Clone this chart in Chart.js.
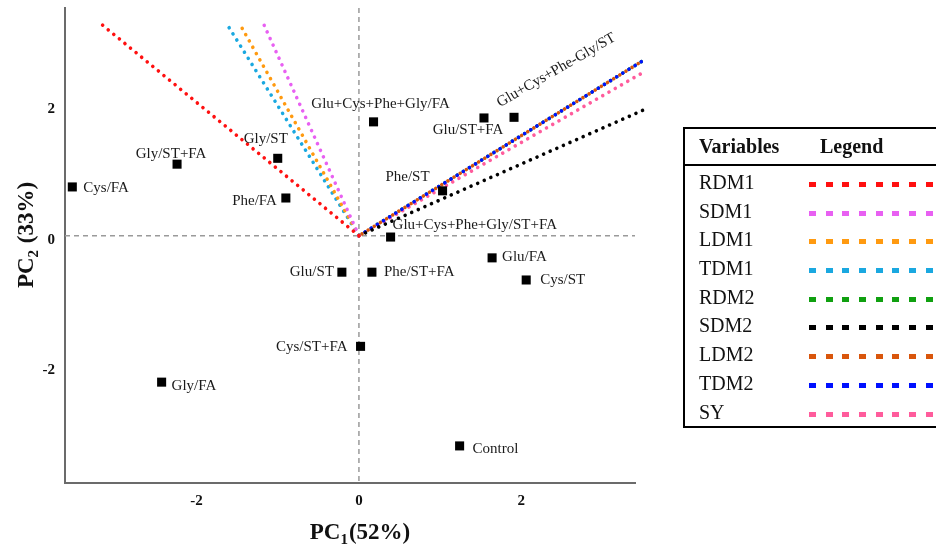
<!DOCTYPE html>
<html>
<head>
<meta charset="utf-8">
<script src="https://cdn.jsdelivr.net/npm/chart.js@4"></script>
<style>
  html, body { margin: 0; padding: 0; background: #fff; overflow: hidden; }
  #wrap { position: relative; width: 936px; height: 546px; }
  #biplot { position: absolute; left: 0; top: 0; }
  .legend-box {
    position: absolute; left: 683px; top: 127px; width: 270px; height: 297px;
    border: 2px solid #000; font-family: "Liberation Serif", serif; color: #111;
  }
  .legend-head { position: relative; height: 35px; border-bottom: 2px solid #000; font-weight: bold; font-size: 20px; }
  .legend-head span { position: absolute; top: 6px; }
  .legend-row { position: relative; height: 28.7px; font-size: 20px; }
  .legend-row .name { position: absolute; left: 14px; top: 3px; }
  .legend-row .dots { position: absolute; left: 124px; top: 14px; width: 150px; height: 5px; }
</style>
</head>
<body>
<div id="wrap">
  <canvas id="biplot" width="936" height="546"></canvas>
  <div class="legend-box" id="legendBox">
    <div class="legend-head"><span style="left:14px">Variables</span><span style="left:135px">Legend</span></div>
    <div id="legendRows" style="padding-top:2px"></div>
  </div>
</div>
<script>
// sample scores (PC1, PC2)
const sampleNames = ["Cys/FA", "Gly/ST+FA", "Gly/ST", "Phe/FA", "Glu+Cys+Phe+Gly/FA", "Glu/ST+FA",
  "Glu+Cys+Phe-Gly/ST", "Phe/ST", "Glu+Cys+Phe+Gly/ST+FA", "Glu/ST", "Phe/ST+FA", "Glu/FA",
  "Cys/ST", "Cys/ST+FA", "Gly/FA", "Control"];
const samplePC1 = [-3.53, -2.24, -1.00, -0.90, 0.18, 1.54, 1.91, 1.03, 0.39, -0.21, 0.16, 1.64, 2.06, 0.02, -2.43, 1.24];
const samplePC2 = [0.75, 1.10, 1.19, 0.58, 1.75, 1.81, 1.82, 0.69, -0.02, -0.56, -0.56, -0.34, -0.68, -1.70, -2.25, -3.23];

// variable loadings (vector ends)
const varNames = ["RDM1", "SDM1", "LDM1", "TDM1", "RDM2", "SDM2", "LDM2", "TDM2", "SY"];
const varColors = ["#ff1010", "#e860f2", "#ff9a10", "#1aa8e0", "#10a010", "#000000", "#d9560c", "#0010ff", "#ff5c9c"];
const varPC1 = [-3.19, -1.18, -1.48, -1.61, 3.51, 3.50, 3.51, 3.51, 3.50];
const varPC2 = [3.27, 3.27, 3.28, 3.22, 2.70, 1.93, 2.70, 2.70, 2.51];

const xTicks = [-2, 0, 2];
const yTicks = [-2, 0, 2];

// label placement: [align, dx, dy]
const labelPlace = [
  ["left", 11, 1], ["center", -6, -10], ["center", -12, -19], ["right", -9, 3],
  ["center", 7, -18], ["center", -16, 12], ["rot", -14, -10], ["right", -13, -14],
  ["left", 2, -12], ["right", -8, 0], ["left", 12, 0], ["left", 10, -1],
  ["left", 14, 0], ["right", -13, 1], ["left", 10, 4], ["left", 13, 3]
];

const serif = '"Liberation Serif", "Times New Roman", serif';

const vectorSets = varNames.map((name, i) => ({
  label: name,
  data: [{ x: 0, y: 0 }, { x: varPC1[i], y: varPC2[i] }],
  showLine: true,
  borderColor: varColors[i],
  borderWidth: 3.6,
  borderDash: [0.01, 7.2],
  borderDashOffset: name === "LDM2" ? 3.6 : 0,
  borderCapStyle: "round",
  pointRadius: 0,
  clip: false,
  order: name === "TDM2" ? 1 : name === "LDM2" ? 2 : name === "RDM2" ? 3 : 1
}));

const pointSet = {
  label: "samples",
  data: samplePC1.map((x, i) => ({ x: x, y: samplePC2[i] })),
  pointStyle: "rect",
  pointRadius: 6.4,
  backgroundColor: "#000",
  borderWidth: 0,
  order: 0
};

const zeroLines = {
  id: "zeroLines",
  beforeDatasetsDraw(chart) {
    const { ctx, chartArea: a, scales: { x, y } } = chart;
    const x0 = x.getPixelForValue(0), y0 = y.getPixelForValue(0);
    ctx.save();
    ctx.strokeStyle = "#9a9a9a";
    ctx.lineWidth = 1.5;
    ctx.setLineDash([5, 4]);
    ctx.beginPath();
    ctx.moveTo(x0, a.top); ctx.lineTo(x0, a.bottom);
    ctx.moveTo(a.left, y0); ctx.lineTo(a.right, y0);
    ctx.stroke();
    ctx.restore();
  }
};

const sampleLabels = {
  id: "sampleLabels",
  afterDatasetsDraw(chart) {
    const ctx = chart.ctx;
    const idx = chart.data.datasets.indexOf(pointSet);
    const meta = chart.getDatasetMeta(idx);
    ctx.save();
    ctx.font = "15px " + serif;
    ctx.fillStyle = "#1a1a1a";
    meta.data.forEach((pt, i) => {
      const [align, dx, dy] = labelPlace[i];
      if (align === "rot") {
        ctx.save();
        ctx.translate(pt.x + dx, pt.y + dy);
        ctx.rotate(-30 * Math.PI / 180);
        ctx.textAlign = "left";
        ctx.textBaseline = "alphabetic";
        ctx.fillText(sampleNames[i], 0, 0);
        ctx.restore();
      } else {
        ctx.textAlign = align;
        ctx.textBaseline = "middle";
        ctx.fillText(sampleNames[i], pt.x + dx, pt.y + dy);
      }
    });
    ctx.restore();
  }
};

function drawSubTitle(ctx, main, sub, rest, cx, cy) {
  const big = "bold 23px " + serif, small = "bold 15px " + serif;
  ctx.font = big; const w1 = ctx.measureText(main).width;
  ctx.font = small; const w2 = ctx.measureText(sub).width;
  ctx.font = big; const w3 = ctx.measureText(rest).width;
  let x = cx - (w1 + w2 + w3 + 1) / 2;
  ctx.textAlign = "left";
  ctx.textBaseline = "alphabetic";
  ctx.font = big; ctx.fillText(main, x, cy); x += w1;
  ctx.font = small; ctx.fillText(sub, x, cy + 5); x += w2 + 1;
  ctx.font = big; ctx.fillText(rest, x, cy);
}

const axisTitles = {
  id: "axisTitles",
  afterDraw(chart) {
    const ctx = chart.ctx;
    ctx.save();
    ctx.fillStyle = "#111";
    drawSubTitle(ctx, "PC", "1", "(52%)", 360, 539);
    ctx.translate(33, 235);
    ctx.rotate(-Math.PI / 2);
    drawSubTitle(ctx, "PC", "2", " (33%)", 0, 0);
    ctx.restore();
  }
};

new Chart(document.getElementById("biplot"), {
  type: "scatter",
  data: { datasets: [pointSet, ...vectorSets] },
  options: {
    responsive: false,
    animation: false,
    layout: { padding: { left: 30, top: 8, right: 301, bottom: 33 } },
    plugins: { legend: { display: false }, tooltip: { enabled: false } },
    scales: {
      x: {
        min: -3.62, max: 3.4,
        afterBuildTicks: (s) => { s.ticks = xTicks.map(v => ({ value: v })); },
        afterFit: (s) => { s.height = 30; s.paddingLeft = 0; s.paddingRight = 0; },
        grid: { display: false, drawTicks: false },
        border: { color: "#6b6b6b", width: 2 },
        ticks: { padding: 9, color: "#111", font: { family: serif, size: 15, weight: "bold" } }
      },
      y: {
        min: -3.8, max: 3.5,
        afterBuildTicks: (s) => { s.ticks = yTicks.map(v => ({ value: v })); },
        afterFit: (s) => { s.width = 35; s.paddingTop = 0; s.paddingBottom = 0; },
        grid: { display: false, drawTicks: false },
        border: { color: "#6b6b6b", width: 2 },
        ticks: { padding: 10, labelOffset: 4, color: "#111", font: { family: serif, size: 15, weight: "bold" } }
      }
    }
  },
  plugins: [zeroLines, sampleLabels, axisTitles]
});

// legend table built from the variable arrays
const rows = document.getElementById("legendRows");
varNames.forEach((name, i) => {
  const row = document.createElement("div");
  row.className = "legend-row";
  row.innerHTML = `<span class="name">${name}</span><div class="dots" style="background: repeating-linear-gradient(90deg, ${varColors[i]} 0 7px, transparent 7px 16.7px);"></div>`;
  rows.appendChild(row);
});
</script>
</body>
</html>
